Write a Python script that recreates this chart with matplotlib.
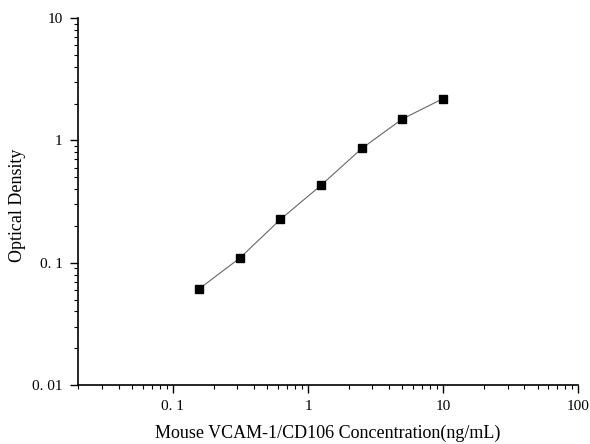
import matplotlib.pyplot as plt
from matplotlib.ticker import FixedLocator, LogLocator, NullFormatter

plt.rcParams['font.family'] = ['Liberation Serif', 'DejaVu Serif']

# standard curve data
conc = [0.156, 0.3125, 0.625, 1.25, 2.5, 5, 10]
od = [0.061, 0.109, 0.226, 0.43, 0.86, 1.50, 2.20]

x_ticks = [0.1, 1, 10, 100]
x_labels = ["0. 1", "1", "10", "100"]
y_ticks = [0.01, 0.1, 1, 10]
y_labels = ["0. 01", "0. 1", "1", "10"]

fig = plt.figure(figsize=(5.9, 4.44), dpi=100)
ax = fig.add_axes([0.132, 0.133, 0.848, 0.826])

ax.plot(conc, od, color="#666666", lw=0.8, marker="s", ms=6,
        mfc="black", mec="black")

ax.set_xscale("log")
ax.set_yscale("log")
ax.set_xlim(0.0198, 100)
ax.set_ylim(0.01, 10)

ax.xaxis.set_major_locator(FixedLocator(x_ticks))
ax.set_xticklabels(x_labels)
ax.yaxis.set_major_locator(FixedLocator(y_ticks))
ax.set_yticklabels(y_labels)
ax.xaxis.set_minor_locator(LogLocator(base=10, subs=range(2, 10)))
ax.yaxis.set_minor_locator(LogLocator(base=10, subs=range(2, 10)))
ax.xaxis.set_minor_formatter(NullFormatter())
ax.yaxis.set_minor_formatter(NullFormatter())

ax.spines["top"].set_visible(False)
ax.spines["right"].set_visible(False)
for s in ("left", "bottom"):
    ax.spines[s].set_linewidth(1.2)

ax.tick_params(which="major", length=6, width=1, labelsize=11, pad=5)
ax.tick_params(which="minor", length=3, width=0.8)

ax.set_xlabel("Mouse VCAM-1/CD106 Concentration(ng/mL)", fontsize=13, labelpad=8)
ax.set_ylabel("Optical Density", fontsize=13)
ax.yaxis.set_label_coords(-0.104, 0.49)

fig.savefig("out.png", dpi=100)
